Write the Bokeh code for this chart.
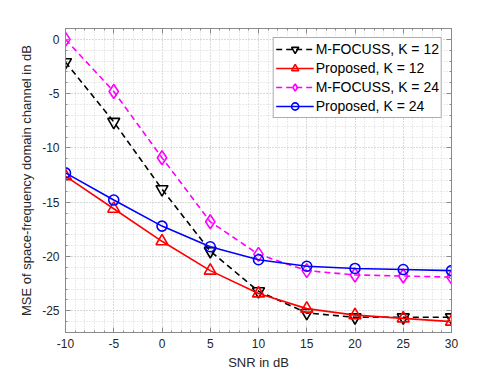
from bokeh.plotting import figure
from bokeh.models import LinearAxis, FixedTicker, Range1d, Legend, LegendItem
from bokeh.embed import file_html
from bokeh.resources import INLINE

snr = [-10, -5, 0, 5, 10, 15, 20, 25, 30]
mfocuss_k12 = [-2.1, -7.6, -13.8, -19.5, -23.2, -25.2, -25.6, -25.6, -25.6]
proposed_k12 = [-12.6, -15.6, -18.6, -21.3, -23.4, -24.8, -25.4, -25.7, -26.0]
mfocuss_k24 = [0.0, -4.8, -10.9, -16.8, -19.8, -21.3, -21.7, -21.8, -21.9]
proposed_k24 = [-12.3, -14.8, -17.2, -19.1, -20.3, -20.9, -21.1, -21.2, -21.3]

x_ticks = [-10, -5, 0, 5, 10, 15, 20, 25, 30]
y_ticks = [-25, -20, -15, -10, -5, 0]
x_minor = list(range(-10, 31))
y_minor = list(range(-27, 2))

FONT = "Liberation Sans"
TXT = "#262626"
AX = "#8a8a8a"

p = figure(width=478, height=372, output_backend="svg", toolbar_location=None,
           x_range=Range1d(-10, 30), y_range=Range1d(-27, 1),
           min_border_left=65, min_border_top=28, min_border_right=27,
           x_axis_label="SNR in dB",
           y_axis_label="MSE of space-frequency domain channel in dB")
p.outline_line_color = AX
p.background_fill_color = "white"
p.border_fill_color = "white"

def style_axis(ax, ticks, minor, show_labels=True):
    ax.ticker = FixedTicker(ticks=ticks, minor_ticks=minor)
    ax.major_tick_in = 5
    ax.major_tick_out = 0
    ax.minor_tick_in = 2
    ax.minor_tick_out = 0
    ax.axis_line_color = AX
    ax.major_tick_line_color = AX
    ax.minor_tick_line_color = AX
    ax.major_label_text_font = FONT
    ax.major_label_text_color = TXT
    ax.major_label_text_font_size = "12px"
    if show_labels:
        ax.major_label_overrides = {t: str(t) for t in ticks}
    else:
        ax.major_label_overrides = {t: "" for t in ticks}
    ax.major_label_standoff = 6
    ax.axis_label_text_font = FONT
    ax.axis_label_text_font_style = "normal"
    ax.axis_label_text_font_size = "13px"
    ax.axis_label_text_color = TXT

style_axis(p.xaxis[0], x_ticks, x_minor)
style_axis(p.yaxis[0], y_ticks, y_minor)
p.xaxis[0].axis_label_standoff = 4
p.yaxis[0].axis_label_standoff = 5

top = LinearAxis()
style_axis(top, x_ticks, x_minor, show_labels=False)
p.add_layout(top, "above")
right = LinearAxis()
style_axis(right, y_ticks, y_minor, show_labels=False)
p.add_layout(right, "right")

for g in (p.xgrid[0], p.ygrid[0]):
    g.grid_line_color = "#c8c8c8"
    g.grid_line_dash = "1 2"
    g.grid_line_width = 1
    g.minor_grid_line_color = "#d4d4d4"
    g.minor_grid_line_dash = "1 2"
    g.minor_grid_line_width = 1
p.xgrid[0].ticker = FixedTicker(ticks=x_ticks, minor_ticks=x_minor)
p.ygrid[0].ticker = FixedTicker(ticks=y_ticks, minor_ticks=y_minor)

items = []
series = [
    ("M-FOCUSS, K = 12", mfocuss_k12, "black", "6 4", "inverted_triangle", 12),
    ("Proposed, K = 12", proposed_k12, "#ff0000", "solid", "triangle", 12),
    ("M-FOCUSS, K = 24", mfocuss_k24, "#ff00ff", "6 4", "diamond", 14),
    ("Proposed, K = 24", proposed_k24, "#0000ff", "solid", "circle", 10),
]
for label, ys, col, dash, marker, size in series:
    l = p.line(snr, ys, line_color=col, line_width=1.6, line_dash=dash)
    m = p.scatter(snr, ys, marker=marker, size=size, line_color=col,
                  line_width=1.6, fill_color=None)
    items.append(LegendItem(label=label, renderers=[l, m]))

legend = Legend(items=items, location="top_right")
legend.margin = 9
legend.padding = 2
legend.spacing = 1
legend.glyph_width = 38
legend.glyph_height = 18
legend.label_height = 18
legend.label_standoff = 2
legend.label_text_font = FONT
legend.label_text_font_size = "14px"
legend.label_text_color = "black"
legend.border_line_color = "#5a5a5a"
legend.border_line_width = 1
legend.background_fill_color = "white"
legend.background_fill_alpha = 1.0
p.add_layout(legend, "center")

open("out.html", "w").write(file_html(p, INLINE))
